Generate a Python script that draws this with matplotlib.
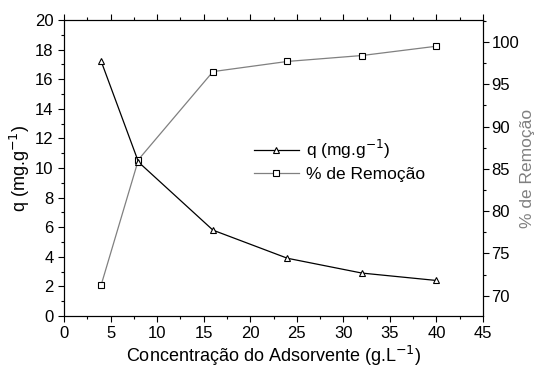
import matplotlib
matplotlib.use("Agg")
import matplotlib.pyplot as plt
from matplotlib.ticker import MultipleLocator

plt.rcParams['font.family'] = ['Liberation Sans', 'DejaVu Sans']

# adsorbent dose (g/L), adsorbed amount and removal
conc = [4, 8, 16, 24, 32, 40]
q_vals = [17.2, 10.4, 5.8, 3.9, 2.9, 2.4]
removal = [71.3, 86.1, 96.5, 97.7, 98.4, 99.5]

fig = plt.figure(figsize=(5.42, 3.74), dpi=100)
ax = fig.add_axes([64/542, 1-316/374, (483-64)/542, (316-20)/374])
ax2 = ax.twinx()

l1, = ax.plot(conc, q_vals, color='black', lw=0.9, marker='^', ms=5,
              mfc='white', mec='black', mew=0.8, label='q (mg.g$^{-1}$)')
l2, = ax2.plot(conc, removal, color='#808080', lw=0.9, marker='s', ms=4,
               mfc='white', mec='black', mew=0.8, label='% de Remoção')
ax.set_zorder(ax2.get_zorder() + 1)
ax.patch.set_visible(False)

ax.set_xlim(0, 45)
ax.set_ylim(0, 20)
ax2.set_ylim(67.6, 102.6)

ax.xaxis.set_major_locator(MultipleLocator(5))
ax.xaxis.set_minor_locator(MultipleLocator(2.5))
ax.yaxis.set_major_locator(MultipleLocator(2))
ax.yaxis.set_minor_locator(MultipleLocator(1))
ax2.yaxis.set_major_locator(MultipleLocator(5))
ax2.yaxis.set_minor_locator(MultipleLocator(2.5))

ax.tick_params(which='both', direction='out', labelsize=12, width=0.8)
ax.tick_params(which='major', length=4)
ax.tick_params(which='minor', length=2.5)
ax.tick_params(axis='x', which='both', top=True)
ax2.tick_params(which='both', direction='out', labelsize=12, width=0.8, pad=2)
ax2.tick_params(which='major', length=4)
ax2.tick_params(which='minor', length=2.5)

for a in (ax, ax2):
    for s in a.spines.values():
        s.set_linewidth(0.8)

ax.set_xlabel('Concentração do Adsorvente (g.L$^{-1}$)', fontsize=13, labelpad=2)
ax.set_ylabel('q (mg.g$^{-1}$)', fontsize=13, labelpad=2)
ax2.set_ylabel('% de Remoção', fontsize=12.5, color='#808080', labelpad=1)

ax.legend(handles=[l1, l2], loc='upper left', bbox_to_anchor=(0.432, 0.63),
          frameon=False, fontsize=12.5, handlelength=2.6, handletextpad=0.4,
          labelspacing=0.3, borderpad=0)

fig.savefig('out.png', dpi=100)
